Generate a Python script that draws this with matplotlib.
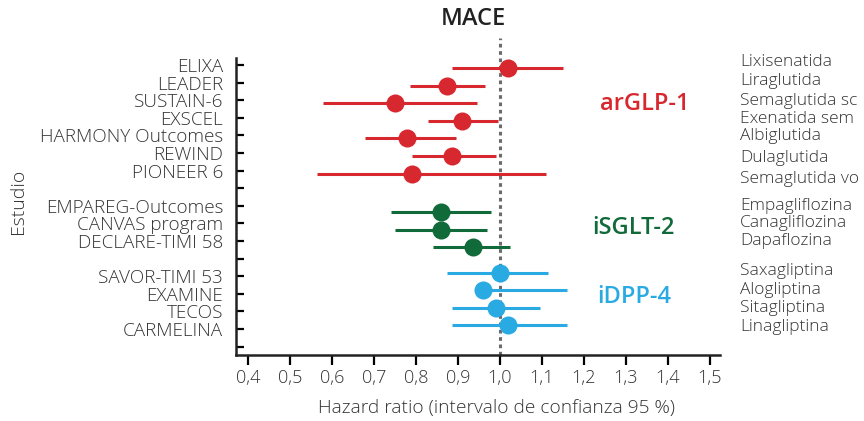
import matplotlib
matplotlib.use("Agg")
import matplotlib.pyplot as plt
import matplotlib.transforms as mtransforms

plt.rcParams["font.family"] = ["Open Sans", "DejaVu Sans"]

# data
studies = ["ELIXA", "LEADER", "SUSTAIN-6", "EXSCEL", "HARMONY Outcomes", "REWIND", "PIONEER 6",
           "EMPAREG-Outcomes", "CANVAS program", "DECLARE-TIMI 58",
           "SAVOR-TIMI 53", "EXAMINE", "TECOS", "CARMELINA"]
drugs = ["Lixisenatida", "Liraglutida", "Semaglutida sc", "Exenatida sem", "Albiglutida",
         "Dulaglutida", "Semaglutida vo",
         "Empagliflozina", "Canagliflozina", "Dapaflozina",
         "Saxagliptina", "Alogliptina", "Sitagliptina", "Linagliptina"]
groups = ["arGLP-1"] * 7 + ["iSGLT-2"] * 3 + ["iDPP-4"] * 4
hr = [1.02, 0.875, 0.75, 0.91, 0.78, 0.885, 0.79,
      0.86, 0.86, 0.935,
      1.00, 0.96, 0.99, 1.02]
ci_low = [0.885, 0.785, 0.58, 0.83, 0.68, 0.79, 0.565,
          0.74, 0.75, 0.84,
          0.875, 0.96, 0.885, 0.885]
ci_high = [1.15, 0.965, 0.945, 0.995, 0.895, 0.99, 1.11,
           0.98, 0.97, 1.025,
           1.115, 1.16, 1.095, 1.16]
group_names = ["arGLP-1", "iSGLT-2", "iDPP-4"]
group_colors = {"arGLP-1": "#D8282F", "iSGLT-2": "#116A39", "iDPP-4": "#2AAAE2"}
xticks = [0.4, 0.5, 0.6, 0.7, 0.8, 0.9, 1.0, 1.1, 1.2, 1.3, 1.4, 1.5]

# layout
row_y = [0, 1, 2, 3, 4, 5, 6, 8, 9, 10, 12, 13, 14, 15]
dot_shift = {"arGLP-1": 0.17, "iSGLT-2": 0.35, "iDPP-4": -0.2}
drug_y = [-0.17, 0.9, 2.05, 3.05, 4.05, 5.3, 6.5, 8.0, 9.0, 10.0, 11.7, 12.8, 13.8, 14.9]
group_pos = {"arGLP-1": (1.345, 2.2), "iSGLT-2": (1.317, 9.26), "iDPP-4": (1.319, 13.2)}
txt = "#333333"

fig = plt.figure(figsize=(8.64, 4.21), dpi=100)
ax = fig.add_axes([0.2728, 0.1568, 0.5605, 0.7054])

for i in range(len(studies)):
    c = group_colors[groups[i]]
    y = row_y[i] + dot_shift[groups[i]]
    ax.plot([ci_low[i], ci_high[i]], [y, y], color=c, lw=2.2, solid_capstyle="butt", zorder=3)
    ax.plot(hr[i], y, "o", color=c, ms=13, mec="none", zorder=4)

ax.axvline(1.0, ymin=0, ymax=1.067, color="#6b6b6b", lw=2.2, ls=(0, (1.2, 1.2)), clip_on=False, zorder=2)

ax.set_xlim(0.371, 1.524)
ax.set_ylim(16.48, -0.4)

ylabels = [""] * 17
for i, s in enumerate(studies):
    ylabels[row_y[i]] = s
ax.set_yticks(range(17))
ax.set_yticklabels(ylabels, fontsize=13.6, color=txt, fontweight="light")
ax.tick_params(axis="y", direction="in", length=6, width=1.6, pad=9)
ax.set_xticks(xticks)
ax.set_xticklabels([f"{t:.1f}".replace(".", ",") for t in xticks], fontsize=13, color=txt,
                   fontweight="light")
ax.tick_params(axis="x", direction="out", length=7, width=1.6, pad=3)

for s in ["top", "right"]:
    ax.spines[s].set_visible(False)
for s in ["left", "bottom"]:
    ax.spines[s].set_linewidth(1.8)
    ax.spines[s].set_color("#222222")

trans = mtransforms.blended_transform_factory(ax.transAxes, ax.transData)
for i, d in enumerate(drugs):
    ax.text(1.041, drug_y[i], d, transform=trans, fontsize=12.5, color=txt,
            fontweight="light", ha="left", va="center")

for g in group_names:
    x, y = group_pos[g]
    ax.text(x, y, g, color=group_colors[g], fontsize=17, fontweight="semibold",
            ha="center", va="center")

fig.text(473 / 864, 1 - 19 / 421, "MACE", fontsize=17, fontweight="semibold",
         color="#222222", ha="center", va="center")
fig.text(18 / 864, 1 - 201 / 421, "Estudio", fontsize=14, color=txt, fontweight="light",
         rotation=90, ha="center", va="center")
fig.text(497 / 864, 1 - 408 / 421, "Hazard ratio (intervalo de confianza 95 %)",
         fontsize=13.8, color=txt, fontweight="light", ha="center", va="center")

fig.savefig("out.png", dpi=100)
